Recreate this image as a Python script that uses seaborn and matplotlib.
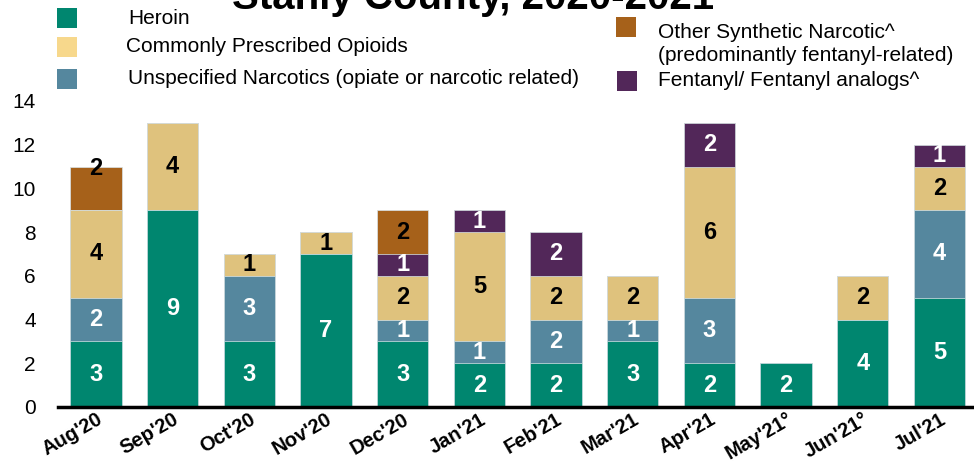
import numpy as np
import pandas as pd
import matplotlib.pyplot as plt
import seaborn as sns
from matplotlib.patches import Rectangle

months = ["Aug'20", "Sep'20", "Oct'20", "Nov'20", "Dec'20", "Jan'21",
          "Feb'21", "Mar'21", "Apr'21", "May'21°", "Jun'21°", "Jul'21"]
heroin = [3, 9, 3, 7, 3, 2, 2, 3, 2, 2, 4, 5]
unspecified = [2, 0, 3, 0, 1, 1, 2, 1, 3, 0, 0, 4]
prescribed = [4, 4, 1, 1, 2, 5, 2, 2, 6, 0, 2, 2]
fentanyl = [0, 0, 0, 0, 1, 1, 2, 0, 2, 0, 0, 1]
other_synth = [2, 0, 0, 0, 2, 0, 0, 0, 0, 0, 0, 0]

# stacking order bottom -> top
layers = [
    ("Heroin", heroin, "#00866F", "white"),
    ("Unspecified Narcotics (opiate or narcotic related)", unspecified, "#55879E", "white"),
    ("Commonly Prescribed Opioids", prescribed, "#DFC27D", "black"),
    ("Fentanyl/ Fentanyl analogs^", fentanyl, "#522759", "white"),
    ("Other Synthetic Narcotic^\n(predominantly fentanyl-related)", other_synth, "#A6611A", "black"),
]
legend_colors = {"Commonly Prescribed Opioids": "#F7D88C"}

plt.rcParams['font.family'] = ['Liberation Sans', 'DejaVu Sans']

W, H = 974, 463
fig = plt.figure(figsize=(W / 100, H / 100), dpi=100)
ax = fig.add_axes([58 / W, 56 / H, 1 - 58 / W, 306 / H])

df = pd.DataFrame({"month": months})
cum = np.zeros(len(months))
cums = []
for name, vals, color, tc in layers:
    cum = cum + np.array(vals)
    cums.append(cum.copy())

# draw cumulative totals from the top layer down so the stack shows
for (name, vals, color, tc), c in reversed(list(zip(layers, cums))):
    d = df.copy()
    d["total"] = c
    sns.barplot(data=d, x="month", y="total", color=color, saturation=1,
                width=0.67, ax=ax, edgecolor="#d8e4e8", linewidth=0.5)

# value labels
bottom = np.zeros(len(months))
for name, vals, color, tc in layers:
    for i, v in enumerate(vals):
        if v > 0:
            y = bottom[i] + v / 2
            if name.startswith("Other") and i == 0:
                y = bottom[i] + v - 0.1
            ax.text(i, y, str(v), ha="center", va="center", color=tc,
                    fontsize=17, fontweight="bold")
    bottom = bottom + np.array(vals)

ax.set_ylim(0, 14)
ax.set_xlim(-0.495, 11.45)
ax.set_yticks(range(0, 15, 2))
ax.tick_params(axis="y", labelsize=15, length=0, pad=16)
ax.tick_params(axis="x", length=0, pad=2)
ax.set_xticks(range(len(months)))
ax.set_xticklabels(months, rotation=30, ha="right", rotation_mode="anchor",
                   fontsize=14.5, fontweight="bold")
ax.set_xlabel("")
ax.set_ylabel("")
for s in ["top", "right", "left"]:
    ax.spines[s].set_visible(False)
ax.spines["bottom"].set_linewidth(2.5)
ax.spines["bottom"].set_color("black")

fig.text(473 / W, 1 - 9 / H, "Stanly County, 2020-2021", ha="center",
         va="baseline", fontsize=29, fontweight="bold")

# legend, laid out as in the original slide
def legend_item(px, py, label, color, tx):
    fig.add_artist(Rectangle((px / W, 1 - (py + 10) / H), 20 / W, 20 / H,
                             facecolor=color, transform=fig.transFigure))
    fig.text(tx / W, 1 - py / H, label, ha="left", va="center", fontsize=15)

lc = {name: legend_colors.get(name, color) for name, vals, color, tc in layers}
legend_item(57, 18, "Heroin", lc["Heroin"], 128)
legend_item(57, 47, "Commonly Prescribed Opioids", lc["Commonly Prescribed Opioids"], 126)
legend_item(57, 79, "Unspecified Narcotics (opiate or narcotic related)",
            lc["Unspecified Narcotics (opiate or narcotic related)"], 128)
fig.add_artist(Rectangle((616 / W, 1 - 37 / H), 20 / W, 20 / H,
                         facecolor=lc["Other Synthetic Narcotic^\n(predominantly fentanyl-related)"],
                         transform=fig.transFigure))
fig.text(658 / W, 1 - 44 / H, "Other Synthetic Narcotic^\n(predominantly fentanyl-related)",
         ha="left", va="center", fontsize=15, linespacing=1.3)
legend_item(617, 81, "Fentanyl/ Fentanyl analogs^", lc["Fentanyl/ Fentanyl analogs^"], 658)

fig.savefig("out.png", dpi=100)
